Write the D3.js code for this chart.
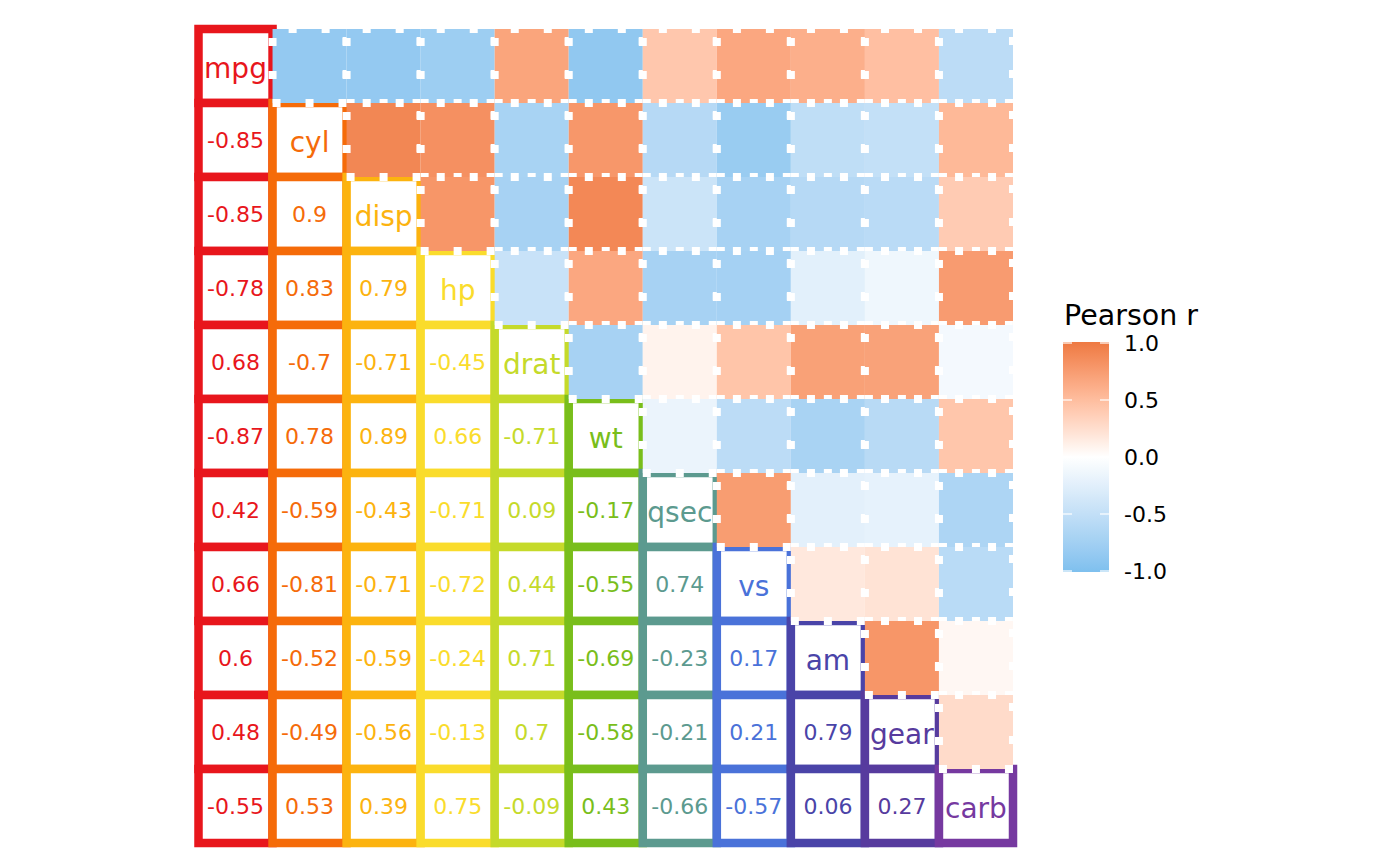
<!DOCTYPE html>
<html>
<head>
<meta charset="utf-8">
<script src="https://cdn.jsdelivr.net/npm/d3@7"></script>
<style>
  body { margin: 0; background: #fff; }
  svg { display: block; font-family: "DejaVu Sans", sans-serif; }
</style>
</head>
<body>
<div id="chart"></div>
<script>
// mtcars variables, in plotting order
const vars = ["mpg", "cyl", "disp", "hp", "drat", "wt", "qsec", "vs", "am", "gear", "carb"];
const varColors = ["#E8161C", "#F56B09", "#FCB30F", "#FADC2C", "#C5DA2A", "#79BE1B",
                   "#5C9A8F", "#4A72D9", "#4A44A8", "#573B9E", "#7639A0"];

// lower triangle of the correlation matrix, row by row (as printed)
const lowerRows = [
  [],
  [-0.85],
  [-0.85, 0.9],
  [-0.78, 0.83, 0.79],
  [0.68, -0.7, -0.71, -0.45],
  [-0.87, 0.78, 0.89, 0.66, -0.71],
  [0.42, -0.59, -0.43, -0.71, 0.09, -0.17],
  [0.66, -0.81, -0.71, -0.72, 0.44, -0.55, 0.74],
  [0.6, -0.52, -0.59, -0.24, 0.71, -0.69, -0.23, 0.17],
  [0.48, -0.49, -0.56, -0.13, 0.7, -0.58, -0.21, 0.21, 0.79],
  [-0.55, 0.53, 0.39, 0.75, -0.09, 0.43, -0.66, -0.57, 0.06, 0.27]
];

const legendTicks = [1, 0.5, 0, -0.5, -1];
const legendLabels = ["1.0", "0.5", "0.0", "-0.5", "-1.0"];
const legendTitle = "Pearson r";

const width = 1400, height = 865;

const svg = d3.select("#chart").append("svg")
  .attr("width", width)
  .attr("height", height);

const x = d3.scaleBand().domain(vars).range([198.5, 1013]);
const y = d3.scaleBand().domain(vars).range([29, 843]);
const bw = x.bandwidth(), bh = y.bandwidth();

const colorOf = d3.scaleOrdinal().domain(vars).range(varColors);

const fill = d3.scaleLinear()
  .domain([-1, 0, 1])
  .range(["#7EC0EE", "#FFFFFF", "#EE7942"])
  .interpolate(d3.interpolateLab);

// one record per cell
const cells = [];
vars.forEach((rv, i) => {
  vars.forEach((cv, j) => {
    let r = 1;
    if (j < i) r = lowerRows[i][j];
    if (j > i) r = lowerRows[j][i];
    cells.push({ row: rv, col: cv, i, j, r });
  });
});

const lower = cells.filter(d => d.j <= d.i).sort((a, b) => a.j - b.j);
const upper = cells.filter(d => d.j > d.i);

// lower triangle: white boxes outlined in the column colour
svg.append("g").attr("class", "lower")
  .selectAll("rect")
  .data(lower)
  .enter()
  .append("rect")
  .attr("x", d => x(d.col))
  .attr("y", d => y(d.row))
  .attr("width", bw)
  .attr("height", bh)
  .attr("fill", "#fff")
  .attr("stroke", d => colorOf(d.col))
  .attr("stroke-width", 8.5);

// upper triangle: filled tiles with white dotted outline
// path starts bottom-left, like R's rect()
svg.append("g").attr("class", "upper")
  .selectAll("path")
  .data(upper)
  .enter()
  .append("path")
  .attr("d", d => {
    const x0 = x(d.col), x1 = x0 + bw, y0 = y(d.row), y1 = y0 + bh;
    return `M${x0},${y1}H${x1}V${y0}H${x0}Z`;
  })
  .attr("fill", d => fill(d.r))
  .attr("stroke", "#fff")
  .attr("stroke-width", 8)
  .attr("stroke-dasharray", "8 25");

// labels
svg.append("g").attr("class", "labels")
  .selectAll("text")
  .data(lower)
  .enter()
  .append("text")
  .attr("x", d => x(d.col) + bw / 2)
  .attr("y", d => y(d.row) + bh / 2 + (d.i === d.j ? 12 : 8))
  .attr("text-anchor", "middle")
  .attr("font-size", d => d.i === d.j ? 28 : 22)
  .attr("fill", d => colorOf(d.col))
  .text(d => d.i === d.j ? d.col : String(d.r));

// colour bar legend
const barX = 1063, barW = 46;
const ly = d3.scaleLinear().domain([-1, 1]).range([571, 343]);

const grad = svg.append("defs").append("linearGradient")
  .attr("id", "pearson-grad")
  .attr("x1", 0).attr("y1", 1).attr("x2", 0).attr("y2", 0);
grad.selectAll("stop")
  .data(d3.range(0, 1.0001, 0.05))
  .enter()
  .append("stop")
  .attr("offset", t => t)
  .attr("stop-color", t => fill(-1 + 2 * t));

const legend = svg.append("g").attr("class", "legend");

legend.append("text")
  .attr("x", 1064)
  .attr("y", 325)
  .attr("font-size", 28.5)
  .attr("fill", "#000")
  .text(legendTitle);

legend.append("rect")
  .attr("x", barX)
  .attr("y", ly(1) - 1)
  .attr("width", barW)
  .attr("height", ly(-1) - ly(1) + 2)
  .attr("fill", "url(#pearson-grad)");

legend.selectAll("line.tl")
  .data(legendTicks)
  .enter()
  .append("line")
  .attr("class", "tl")
  .attr("x1", barX).attr("x2", barX + 9)
  .attr("y1", d => ly(d)).attr("y2", d => ly(d))
  .attr("stroke", "#fff").attr("stroke-width", 1.2);

legend.selectAll("line.tr")
  .data(legendTicks)
  .enter()
  .append("line")
  .attr("class", "tr")
  .attr("x1", barX + barW - 9).attr("x2", barX + barW)
  .attr("y1", d => ly(d)).attr("y2", d => ly(d))
  .attr("stroke", "#fff").attr("stroke-width", 1.2);

legend.selectAll("text.tick")
  .data(legendTicks)
  .enter()
  .append("text")
  .attr("class", "tick")
  .attr("x", 1124)
  .attr("y", d => ly(d) + 8)
  .attr("font-size", 22)
  .attr("fill", "#000")
  .text((d, i) => legendLabels[i]);
</script>
</body>
</html>
